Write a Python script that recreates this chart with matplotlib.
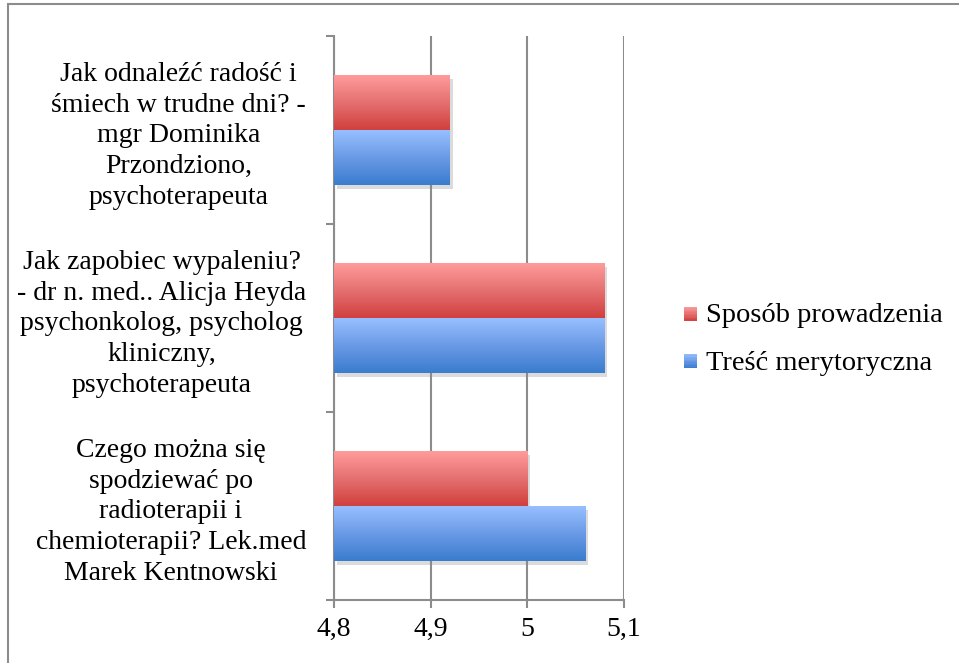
import numpy as np
import matplotlib
matplotlib.use("Agg")
import matplotlib.pyplot as plt
import matplotlib.patheffects as pe
from matplotlib.colors import LinearSegmentedColormap
from matplotlib.patches import Rectangle
from matplotlib.legend_handler import HandlerBase

plt.rcParams['font.family'] = ['Liberation Serif', 'DejaVu Serif']

categories = [
    "Jak odnaleźć radość i\nśmiech w trudne dni? -\nmgr Dominika\nPrzondziono,\npsychoterapeuta",
    "Jak zapobiec wypaleniu?\n- dr n. med.. Alicja Heyda\npsychonkolog, psycholog\nkliniczny,\npsychoterapeuta",
    "Czego można się\nspodziewać po\nradioterapii i\nchemioterapii? Lek.med\nMarek Kentnowski",
]
sposob = [4.92, 5.08, 5.00]
tresc = [4.92, 5.08, 5.06]
series_names = ["Sposób prowadzenia", "Treść merytoryczna"]
xticks = [4.8, 4.9, 5.0, 5.1]
xticklabels = ["4,8", "4,9", "5", "5,1"]

red_cmap = LinearSegmentedColormap.from_list("r", ["#ff9b9b", "#e57070", "#d0403e"])
blue_cmap = LinearSegmentedColormap.from_list("b", ["#97bfff", "#6a9ae6", "#3a7cce"])

fig = plt.figure(figsize=(9.59, 6.63), dpi=100)
ax = fig.add_axes([334/959, 63/663, 290/959, 564/663])

# chart frame
fig.patches.append(Rectangle((8/959, -0.05), 1.2, 1.05 - 4/663, transform=fig.transFigure,
                             fill=False, edgecolor="#8c8c8c", linewidth=1.5, zorder=0))

y = np.arange(len(categories))
h = 0.292
off = 0.146
xmin = xticks[0]

def gradient_bars(ypos, vals, cmap, color):
    bars = ax.barh(ypos, np.array(vals) - xmin, left=xmin, height=h, color=color, zorder=3,
                   path_effects=[pe.SimplePatchShadow(offset=(2, -3), shadow_rgbFace="#888888", alpha=0.3),
                                 pe.Normal()])
    grad = np.linspace(0, 1, 100).reshape(-1, 1)
    for b in bars:
        x0, y0 = b.get_x(), b.get_y()
        ax.imshow(grad, cmap=cmap, aspect="auto", zorder=4,
                  extent=[x0, x0 + b.get_width(), y0 + b.get_height(), y0],
                  interpolation="bilinear")
    return bars

gradient_bars(y - off, sposob, red_cmap, "#e57070")
gradient_bars(y + off, tresc, blue_cmap, "#6a9ae6")

ax.set_xlim(xticks[0], xticks[-1])
ax.set_ylim(2.5, -0.5)

ax.set_xticks(xticks)
ax.set_xticklabels(xticklabels, fontsize=20)
ax.tick_params(axis="x", direction="out", length=6, width=1.5, color="#8c8c8c", pad=6)
ax.xaxis.grid(True, color="#8c8c8c", linewidth=1.5, zorder=1)
ax.set_axisbelow(True)

ax.set_yticks([-0.5, 0.5, 1.5, 2.5])
ax.set_yticklabels([])
ax.tick_params(axis="y", which="major", direction="out", length=6, width=1.5, color="#8c8c8c")
ax.set_yticks(y, minor=True)
ax.set_yticklabels(categories, minor=True, fontsize=20, multialignment="center", linespacing=1.3)
ax.tick_params(axis="y", which="minor", length=0, pad=20)

for s in ["top", "right"]:
    ax.spines[s].set_visible(False)
for s in ["left", "bottom"]:
    ax.spines[s].set_color("#8c8c8c")
    ax.spines[s].set_linewidth(1.5)


class GradHandler(HandlerBase):
    def __init__(self, cmap):
        super().__init__()
        self.cmap = cmap

    def create_artists(self, legend, orig_handle, xdescent, ydescent, width, height, fontsize, trans):
        arts = []
        n = 10
        side = 10
        x0 = width - side
        y0 = (height - side) / 2 - 1
        for i in range(n):
            c = self.cmap(1 - (i + 0.5) / n)
            arts.append(Rectangle((x0, y0 + i * side / n), side, side / n + 0.2,
                                  facecolor=c, edgecolor="none", transform=trans))
        return arts


h1 = Rectangle((0, 0), 1, 1)
h2 = Rectangle((0, 0), 1, 1)
fig.legend([h1, h2], series_names, loc="center left", bbox_to_anchor=(649/959, 1 - 339/663),
           frameon=False, fontsize=20.5, handlelength=0.8, handletextpad=0.3, labelspacing=0.75,
           handler_map={h1: GradHandler(red_cmap), h2: GradHandler(blue_cmap)})

fig.savefig("out.png", dpi=100)
